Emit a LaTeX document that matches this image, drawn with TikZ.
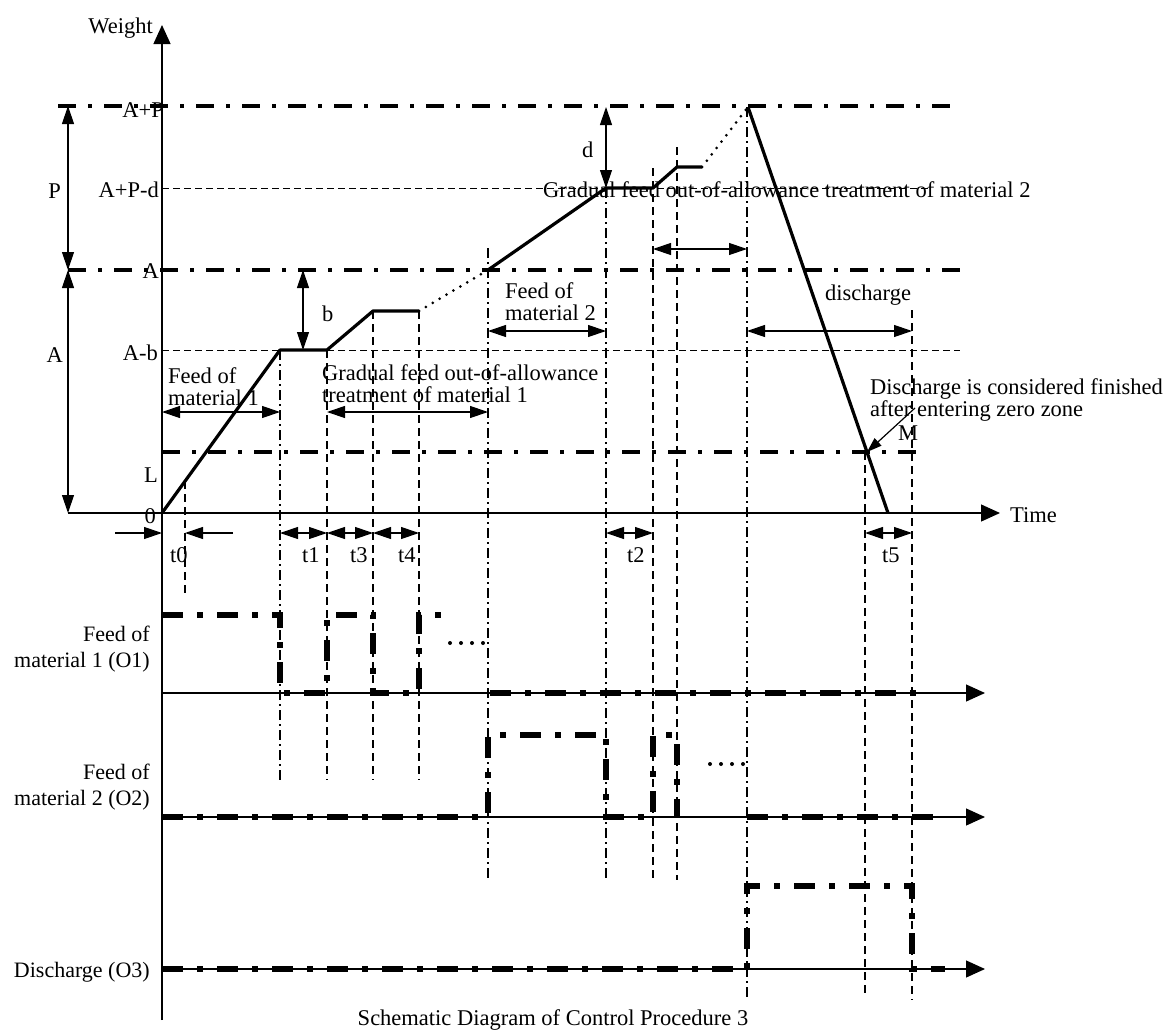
\documentclass[tikz,border=0pt]{standalone}
\usepackage{fontspec}
\setmainfont{Liberation Serif}
\usetikzlibrary{arrows.meta}
\begin{document}
\begin{tikzpicture}[x=1pt,y=-1pt,
  lbl/.style={font=\fontsize{22.5}{22}\selectfont, inner sep=0pt},
  twoline/.style={font=\fontsize{22.5}{22}\selectfont, inner sep=0pt, align=left, anchor=north west},
  sidelbl/.style={font=\fontsize{22}{26}\selectfont, inner sep=0pt, align=right, anchor=north east},
  axisline/.style={line width=1.3pt, -{Triangle[length=19pt,width=17pt]}},
  rowline/.style={line width=1.2pt, -{Triangle[length=19pt,width=17pt]}},
  levelline/.style={line width=4pt, dash pattern=on 18pt off 12pt on 4pt off 12pt},
  thindash/.style={line width=1pt, dash pattern=on 7pt off 4pt},
  vdash/.style={line width=1.1pt, dash pattern=on 8pt off 5pt},
  vdashdot/.style={line width=1.1pt, dash pattern=on 10pt off 4pt on 2pt off 4pt},
  curveline/.style={line width=3.2pt, line join=round},
  dotline/.style={line width=3pt, line cap=round, dash pattern=on 0pt off 8pt},
  signal/.style={line width=6pt, line join=miter, dash pattern=on 21pt off 14pt on 6pt off 14pt},
  dim/.style={line width=1.2pt, {Triangle[length=18pt,width=12pt]}-{Triangle[length=18pt,width=12pt]}},
  onearrow/.style={line width=1.2pt, -{Triangle[length=18pt,width=12pt]}},
  smallarrow/.style={line width=1.2pt, -{Triangle[length=15pt,width=10pt]}},
  dotmark/.style={fill=black, circle, inner sep=0pt, minimum size=4pt},
]
\useasboundingbox (0,0) rectangle (1171,1036);
\fill[white] (0,0) rectangle (1171,1036);

% ---- curve coordinates
\coordinate (O) at (162,513);
\coordinate (c1) at (280,350);
\coordinate (c2) at (327,350);
\coordinate (c3) at (373,311);
\coordinate (c4) at (419,311);
\coordinate (c5) at (488,270);
\coordinate (c6) at (606,188);
\coordinate (c7) at (653,188);
\coordinate (c8) at (677,167);
\coordinate (c9) at (702,167);
\coordinate (c10) at (748,107);
\coordinate (c11) at (888,513);
\coordinate (M) at (867,452);

% ---- level lines
\draw[levelline] (58,106) -- (950,106);
\draw[levelline] (68,270) -- (960,270);
\draw[levelline] (162,452) -- (925,452);
\draw[thindash] (162,188) -- (930,188);
\draw[thindash] (162,350) -- (960,350);

% ---- vertical reference lines
\draw[vdash] (185,481) -- (185,595);
\draw[vdashdot] (280,350) -- (280,780);
\draw[vdash] (327,350) -- (327,780);
\draw[vdash] (373,311) -- (373,780);
\draw[vdash] (419,311) -- (419,780);
\draw[vdashdot] (488,248) -- (488,880);
\draw[vdashdot] (606,188) -- (606,880);
\draw[vdash] (653,168) -- (653,880);
\draw[vdash] (677,147) -- (677,880);
\draw[vdashdot] (747,107) -- (747,1000);
\draw[vdash] (865,452) -- (865,995);
\draw[vdash] (912,310) -- (912,1000);

% ---- axes
\coordinate (ytop) at (162,25);
\coordinate (ybot) at (162,1020);
\coordinate (xstart) at (68,513);
\coordinate (xend) at (1000,513);
\draw[axisline] (ybot) -- (ytop);
\draw[axisline] (xstart) -- (xend);
\node[lbl, anchor=base east] (weight) at (153,34) {Weight};
\node[lbl, anchor=base west] (time) at (1010,522) {Time};

% ---- level labels
\node[lbl, anchor=base east] (lAP) at (164,117) {A+P};
\node[lbl, anchor=base east] (lAPd) at (159,197) {A+P-d};
\node[lbl, anchor=base east] (lA) at (159,278) {A};
\node[lbl, anchor=base east] (lAb) at (158,360) {A-b};
\node[lbl, anchor=base east] (lL) at (158,482) {L};
\node[lbl, anchor=base east] (l0) at (156,523) {0};
\node[lbl, anchor=base east] (lP) at (61,198) {P};
\node[lbl, anchor=base east] (lAleft) at (63,362) {A};

% ---- dimension arrows
\coordinate (pTop) at (68,106);
\coordinate (pBot) at (68,270);
\coordinate (aBot) at (68,513);
\draw[dim] (pTop) -- (pBot);
\draw[dim] (pBot) -- (aBot);
\draw[dim] (303,270) -- (303,350);
\node[lbl, anchor=base west] (lb) at (322,321) {b};
\draw[dim] (606,107) -- (606,188);
\node[lbl, anchor=base west] (ld) at (582,157) {d};
\draw[dim] (653,249) -- (747,249);

% ---- curve
\draw[curveline] (O) -- (c1) -- (c2) -- (c3) -- (c4);
\draw[dotline] (c4) -- (c5);
\draw[curveline] (c5) -- (c6) -- (c7) -- (c8) -- (c9);
\draw[dotline] (c9) -- (c10);
\draw[curveline] (c10) -- (c11);

% ---- text labels in top panel
\node[twoline] (feed1) at (168,367) {Feed of\\material 1};
\draw[dim] (162,412) -- (280,412);
\node[twoline] (grad1) at (322,364) {Gradual feed out-of-allowance\\treatment of material 1};
\draw[dim] (327,412) -- (488,412);
\node[twoline] (feed2) at (505,282) {Feed of\\material 2};
\draw[dim] (488,331) -- (606,331);
\node[lbl, anchor=base west] (disch) at (825,300) {discharge};
\draw[dim] (747,331) -- (912,331);
\node[lbl, anchor=base west] (grad2) at (543,197) {Gradual feed out-of-allowance treatment of material 2};
\node[twoline] (finish) at (870,378) {Discharge is considered finished\\after entering zero zone};
\node[lbl, anchor=base west] (lM) at (898,440) {M};
\coordinate (mStart) at (915,408);
\draw[smallarrow] (mStart) -- (M);

% ---- time interval arrows
\draw[onearrow] (115,533) -- (162,533);
\draw[onearrow] (233,533) -- (185,533);
\node[lbl, anchor=base west] (t0) at (170,562) {t0};
\draw[dim] (280,533) -- (327,533);
\node[lbl, anchor=base west] (t1) at (302,562) {t1};
\draw[dim] (327,533) -- (373,533);
\node[lbl, anchor=base west] (t3) at (350,562) {t3};
\draw[dim] (373,533) -- (419,533);
\node[lbl, anchor=base west] (t4) at (398,562) {t4};
\draw[dim] (606,533) -- (653,533);
\node[lbl, anchor=base west] (t2) at (627,562) {t2};
\draw[dim] (865,533) -- (912,533);
\node[lbl, anchor=base west] (t5) at (882,562) {t5};

% ---- signal rows
\draw[rowline] (162,693) -- (985,693);
\draw[rowline] (162,817) -- (985,817);
\draw[rowline] (162,969) -- (985,969);

\node[sidelbl] (o1) at (150,626) {Feed of\\material 1 (O1)};
\node[sidelbl] (o2) at (150,764) {Feed of\\material 2 (O2)};
\node[font=\fontsize{22}{26}\selectfont, inner sep=0pt, anchor=base east] (o3) at (150,977) {Discharge (O3)};

% O1
\draw[signal] (162,615) -- (280,615) -- (280,693) -- (327,693) -- (327,615) -- (373,615) -- (373,693) -- (419,693) -- (419,615) -- (442,615);
\foreach \i/\xx in {1/450,2/461,3/472,4/483} \node[dotmark] (da\i) at (\xx,643) {};
\draw[signal] (490,693) -- (930,693);
% O2
\draw[signal] (162,817) -- (488,817) -- (488,735) -- (606,735) -- (606,817) -- (653,817) -- (653,735) -- (677,735) -- (677,817);
\foreach \i/\xx in {1/710,2/721,3/732,4/743} \node[dotmark] (db\i) at (\xx,764) {};
\draw[signal] (747,817) -- (940,817);
% O3
\draw[signal] (162,969) -- (747,969) -- (747,886) -- (912,886) -- (912,969) -- (945,969);

% ---- title
\node[lbl] (title) at (553,1020) {Schematic Diagram of Control Procedure 3};
\end{tikzpicture}
\end{document}
